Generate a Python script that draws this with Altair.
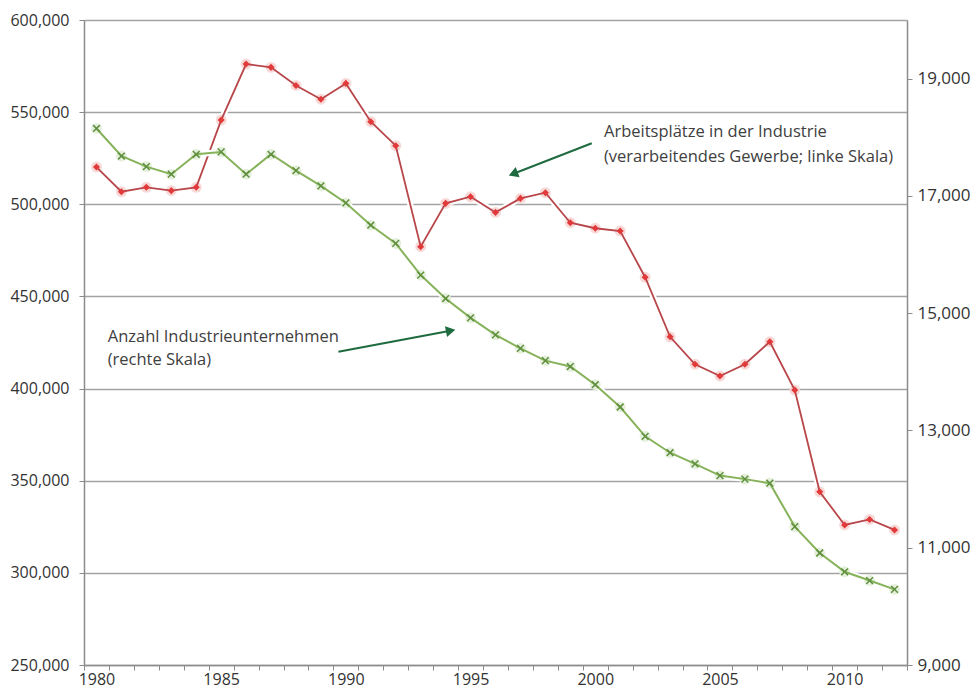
import altair as alt
import pandas as pd

# ---- data ----
years = list(range(1980, 2013))
jobs = [520200, 506800, 509200, 507400, 509200, 545700, 576100, 574300, 564500, 557000,
        565600, 544800, 531800, 477000, 500500, 504100, 495600, 503200, 506300, 490000,
        487000, 485500, 460400, 428100, 413200, 406800, 413200, 425400, 399200, 344000,
        326000, 329000, 323300]
firms = [18150, 17680, 17500, 17370, 17710, 17750, 17370, 17710, 17430, 17170,
         16880, 16500, 16190, 15650, 15250, 14920, 14630, 14400, 14190, 14090,
         13780, 13400, 12900, 12620, 12430, 12230, 12170, 12100, 11360, 10910,
         10590, 10440, 10290]

left_ticks = [250000, 300000, 350000, 400000, 450000, 500000, 550000, 600000]
right_ticks = [9000, 11000, 13000, 15000, 17000, 19000]

# annotations (text in year / left-scale units)
note_x = [2000.35, 2000.35, 1980.45, 1980.45]
note_y = [539200, 525600, 428000, 415500]
note_text = ["Arbeitsplätze in der Industrie",
             "(verarbeitendes Gewerbe; linke Skala)",
             "Anzahl Industrieunternehmen",
             "(rechte Skala)"]
arrow_x = [1999.86, 1989.70]
arrow_y = [533100, 420000]
arrow_x2 = [1996.77, 1994.14]
arrow_y2 = [516850, 431280]
arrow_angle = [249, 79]

df = pd.DataFrame({"year": years, "jobs": jobs, "firms": firms})
notes = pd.DataFrame({"x": note_x, "y": note_y, "t": note_text})
arrows = pd.DataFrame({"x": arrow_x, "y": arrow_y, "x2": arrow_x2, "y2": arrow_y2, "ang": arrow_angle})

W, H = 823, 645
half = W / 33 / 2
FONT = "Open Sans"
AXC = "#8c8c8c"
LBL = "#333333"

x_scale = alt.Scale(domain=[1979.5, 2012.5], nice=False, zero=False)
x_axis = alt.Axis(
    values=[1979.5 + i for i in range(34)],
    labelExpr="(datum.value + 0.5) % 5 == 0 ? format(datum.value + 0.5, 'd') : ''",
    labelOffset=half, labelOverlap=False, labelFlush=False,
    tickSize=5, tickColor=AXC, tickWidth=1, domainColor=AXC, domainWidth=1.5,
    grid=False, title=None, labelFont=FONT, labelFontSize=16, labelColor=LBL,
    labelPadding=1,
)
yl_scale = alt.Scale(domain=[250000, 600000], nice=False, zero=False)
yl_axis = alt.Axis(
    values=left_ticks, format=",d", grid=True, gridColor="#a3a3a3", gridWidth=1.5,
    tickSize=5, tickColor=AXC, domainColor=AXC, domainWidth=1.5, title=None,
    labelFont=FONT, labelFontSize=16, labelColor=LBL, labelPadding=10,
)
yr_scale = alt.Scale(domain=[9000, 20000], nice=False, zero=False)
yr_axis = alt.Axis(
    orient="right", values=right_ticks, format=",d", grid=False,
    tickSize=5, tickColor=AXC, domainColor=AXC, domainWidth=1.5, title=None,
    labelFont=FONT, labelFontSize=17, labelColor=LBL, labelPadding=5,
)

X = alt.X("year:Q", scale=x_scale, axis=x_axis)
YL = alt.Y("jobs:Q", scale=yl_scale, axis=yl_axis)
YR = alt.Y("firms:Q", scale=yr_scale, axis=yr_axis)

base = alt.Chart(df)

# left-scale group: jobs + annotations
red_halo = base.mark_line(color="white", strokeWidth=6).encode(x=X, y=YL)
red_glow = base.mark_point(shape="circle", filled=True, size=120, color="#f6d6d4",
                           opacity=0.9).encode(x=X, y=YL)
red_line = base.mark_line(color="#b8464a", strokeWidth=1.8).encode(x=X, y=YL)
red_pts = base.mark_point(shape="diamond", filled=True, size=50, color="#e23a3a",
                          opacity=1).encode(x=X, y=YL)

note_layer = alt.Chart(notes).mark_text(
    align="left", baseline="middle", font=FONT, fontSize=16.5, color="#404040"
).encode(
    x=alt.X("x:Q", scale=x_scale, axis=x_axis),
    y=alt.Y("y:Q", scale=yl_scale, axis=yl_axis),
    text="t:N",
)
arrow_lines = alt.Chart(arrows).mark_rule(color="#1f6b40", strokeWidth=2).encode(
    x=alt.X("x:Q", scale=x_scale, axis=x_axis),
    y=alt.Y("y:Q", scale=yl_scale, axis=yl_axis),
    x2="x2:Q", y2="y2:Q",
)
arrow_heads = alt.Chart(arrows).mark_point(
    shape="triangle", filled=True, size=120, color="#1f6b40", opacity=1
).encode(
    x=alt.X("x2:Q", scale=x_scale, axis=x_axis),
    y=alt.Y("y2:Q", scale=yl_scale, axis=yl_axis),
    angle=alt.Angle("ang:Q", scale=None),
)

left = alt.layer(red_halo, red_glow, red_line, red_pts, note_layer, arrow_lines, arrow_heads)

# right-scale group: firms
green_halo = base.mark_line(color="white", strokeWidth=6).encode(x=X, y=YR)
green_glow = base.mark_point(shape="circle", filled=True, size=120, color="#e2eed8",
                             opacity=0.9).encode(x=X, y=YR)
green_line = base.mark_line(color="#86b25a", strokeWidth=2).encode(x=X, y=YR)
green_pts = base.mark_point(shape="M -1 -1 L 1 1 M -1 1 L 1 -1", filled=False, size=45,
                            color="#5f8f3e", strokeWidth=1.5, opacity=1).encode(x=X, y=YR)
right = alt.layer(green_halo, green_glow, green_line, green_pts)

chart = alt.layer(left, right).resolve_scale(y="independent").properties(
    width=W, height=H,
    padding={"left": 84, "top": 20, "right": 68, "bottom": 34},
    autosize="none",
    background="white",
).configure_view(stroke=None)

chart.save("out.html", embed_options={"renderer": "svg", "actions": False})
